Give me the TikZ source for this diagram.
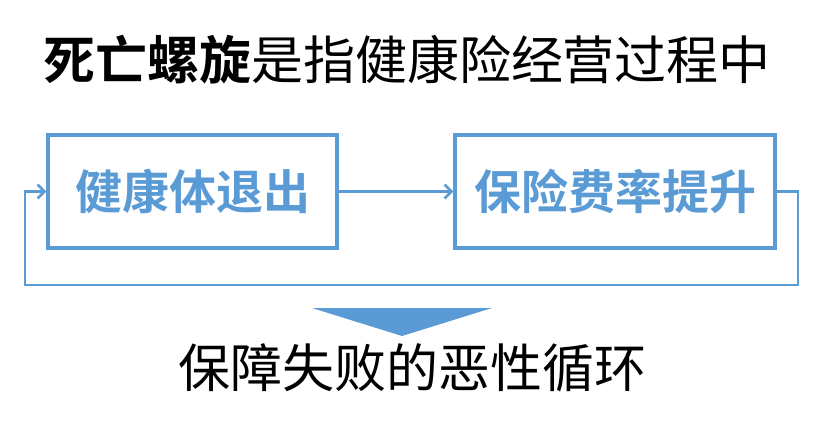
\documentclass[tikz,border=0pt]{standalone}
\usepackage{fontspec}
\newfontfamily\cjk{Noto Sans CJK SC}
\newfontfamily\cjkb{Noto Sans CJK SC Bold}
\usetikzlibrary{arrows.meta}
\definecolor{bl}{HTML}{5B9BD5}
\begin{document}
\begin{tikzpicture}[x=1pt,y=-1pt,
 box/.style={draw=bl,line width=3.2pt,minimum width=#1,minimum height=113pt,inner sep=0pt,text=bl,font=\cjkb\fontsize{47}{49}\selectfont},
 con/.style={draw=bl,line width=2.6pt,-{Straight Barb[length=7pt,width=14pt]}}]
\useasboundingbox (0,0) rectangle (830,423);
\node[font=\cjk\fontsize{52}{54}\selectfont,inner sep=0pt] (t) at (407,60) {{\cjkb 死亡螺旋}是指健康险经营过程中};
\node[box=289pt] (a) at (192.5,191.5) {健康体退出};
\node[box=320pt] (b) at (615,191.5) {保险费率提升};
\draw[con] (a.east) -- (b.west);
\coordinate (c1) at (798,285);
\coordinate (c2) at (25,285);
\draw[con] (b.east) -| (c1) -- (c2) |- (a.west);
\fill[bl] (312,308) -- (492,308) -- (402,336) -- cycle;
\node[font=\cjk\fontsize{52}{54}\selectfont,inner sep=0pt] (bt) at (412,368) {保障失败的恶性循环};
\end{tikzpicture}
\end{document}
